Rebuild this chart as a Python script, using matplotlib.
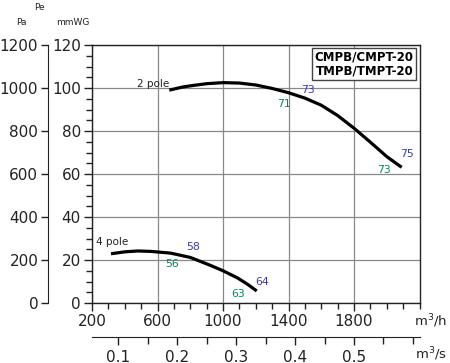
import matplotlib
matplotlib.use("Agg")
import matplotlib.pyplot as plt
from matplotlib.ticker import MultipleLocator

# Data (flow m3/h, pressure mmWG)
pole2_q = [672, 750, 800, 900, 1000, 1100, 1200, 1300, 1400, 1500, 1600, 1700, 1800, 1900, 2000, 2091]
pole2_p = [99.0, 100.4, 101.0, 102.0, 102.5, 102.3, 101.4, 99.8, 97.8, 95.3, 92.0, 87.2, 81.3, 74.8, 68.1, 63.1]
pole4_q = [316, 400, 480, 560, 680, 800, 920, 1000, 1090, 1150, 1206]
pole4_p = [22.9, 23.8, 24.2, 24.0, 23.2, 21.2, 17.6, 15.0, 11.6, 8.7, 5.6]

blue_labels = [("73", 1519, 99.1), ("75", 2122, 69.3), ("58", 819, 26.2), ("64", 1238, 9.9)]
green_labels = [("71", 1373, 92.6), ("73", 1983, 61.9), ("56", 687, 18.1), ("63", 1094, 4.2)]

W, H = 450, 363
fig = plt.figure(figsize=(W / 100, H / 100), dpi=100)
L, R, T, B = 92, 419.5, 45, 303
ax = fig.add_axes([L / W, 1 - B / H, (R - L) / W, (B - T) / H])

ax.set_xlim(200, 2200)
ax.set_ylim(0, 120)
ax.xaxis.set_major_locator(MultipleLocator(400))
ax.xaxis.set_minor_locator(MultipleLocator(100))
ax.yaxis.set_major_locator(MultipleLocator(20))
ax.yaxis.set_minor_locator(MultipleLocator(5))
ax.set_xticks([200, 600, 1000, 1400, 1800])
ax.grid(True, which="major", color="#888888", lw=0.9)
ax.set_axisbelow(True)
for s in ax.spines.values():
    s.set_color("#222222")
    s.set_linewidth(1.0)
ax.tick_params(which="major", direction="out", length=6, width=1, labelsize=11, colors="#222222", pad=2)
ax.tick_params(which="minor", direction="out", length=4, width=1, colors="#222222")

ax.plot(pole2_q, pole2_p, color="black", lw=2.3, solid_capstyle="butt")
ax.plot(pole4_q, pole4_p, color="black", lw=2.3, solid_capstyle="butt")

ax.text(475, 102.0, "2 pole", fontsize=7.5, ha="left", va="center", color="#222222")
ax.text(223, 28.5, "4 pole", fontsize=7.5, ha="left", va="center", color="#222222")
for t, x, y in blue_labels:
    ax.text(x, y, t, fontsize=7.8, color="#3a3aa8", ha="center", va="center")
for t, x, y in green_labels:
    ax.text(x, y, t, fontsize=7.8, color="#008a5e", ha="center", va="center")

ax.text(0.982, 0.978, "CMPB/CMPT-20\nTMPB/TMPT-20", transform=ax.transAxes,
        ha="right", va="top", fontsize=8.5, fontweight="bold", linespacing=1.1,
        bbox=dict(boxstyle="square,pad=0.22", fc="white", ec="#444444", lw=1))

# Pa axis
pa = ax.secondary_yaxis((48 - L) / (R - L), functions=(lambda v: v * 10, lambda v: v / 10))
pa.set_yticks([0, 200, 400, 600, 800, 1000, 1200])
pa.tick_params(direction="out", length=5, width=1, labelsize=11, colors="#222222", pad=2)
pa.spines["left"].set_color("#222222")

# m3/s axis
ms = ax.secondary_xaxis(-(337 - B) / (B - T), functions=(lambda v: v / 3600, lambda v: v * 3600))
ms.set_xticks([0.1, 0.2, 0.3, 0.4, 0.5])
ms.xaxis.set_minor_locator(MultipleLocator(0.05))
ms.tick_params(which="major", direction="out", length=6, width=1, labelsize=11, colors="#222222", pad=3)
ms.tick_params(which="minor", direction="out", length=5, width=1, colors="#222222")
ms.spines["bottom"].set_color("#222222")

fig.text(431 / W, 1 - 321 / H, "m$^3$/h", fontsize=9.5, ha="center", va="center", color="#222222")
fig.text(431 / W, 1 - 354 / H, "m$^3$/s", fontsize=9.5, ha="center", va="center", color="#222222")
fig.text(21.5 / W, 1 - 22.5 / H, "Pa", fontsize=6.5, ha="center", va="center", color="#222222")
fig.text(39.5 / W, 1 - 7 / H, "Pe", fontsize=6.5, ha="center", va="center", color="#222222")
fig.text(72.5 / W, 1 - 22.5 / H, "mmWG", fontsize=6.5, ha="center", va="center", color="#222222")

fig.savefig("out.png", dpi=100)
